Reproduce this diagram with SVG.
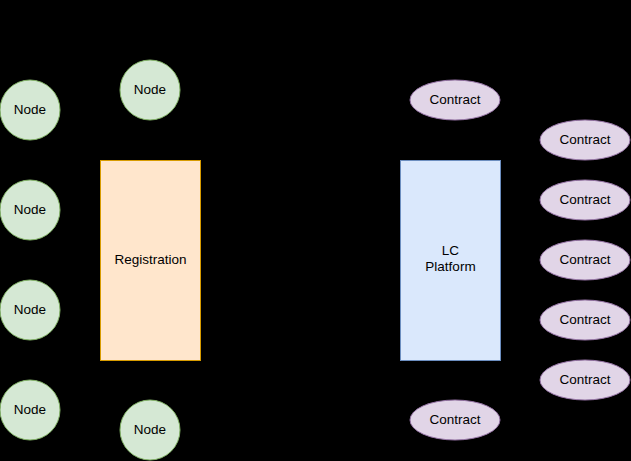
<svg xmlns="http://www.w3.org/2000/svg" width="631" height="461" viewBox="0 0 631 461">
<style>
text{font-family:"Liberation Sans",Arial,sans-serif;font-size:13.5px;fill:#000;text-anchor:middle;dominant-baseline:central}
.node{fill:#d5e8d4;stroke:#82b366;stroke-width:1}
.reg{fill:#ffe6cc;stroke:#d79b00;stroke-width:1}
.lc{fill:#dae8fc;stroke:#6c8ebf;stroke-width:1}
.ct{fill:#e1d5e7;stroke:#9673a6;stroke-width:1}
</style>
<rect x="0" y="0" width="631" height="461" fill="#000"/>
<g id="connectors"></g>
<g id="node1"><circle class="node" cx="30" cy="110" r="30"/><text x="30" y="109">Node</text></g>
<g id="node2"><circle class="node" cx="30" cy="210" r="30"/><text x="30" y="209">Node</text></g>
<g id="node3"><circle class="node" cx="30" cy="310" r="30"/><text x="30" y="309">Node</text></g>
<g id="node4"><circle class="node" cx="30" cy="410" r="30"/><text x="30" y="409">Node</text></g>
<g id="node5"><circle class="node" cx="150" cy="90" r="30"/><text x="150" y="89">Node</text></g>
<g id="node6"><circle class="node" cx="150" cy="430" r="30"/><text x="150" y="429">Node</text></g>
<g id="registration"><rect class="reg" x="100.5" y="160.5" width="100" height="200"/><text x="150.5" y="259">Registration</text></g>
<g id="lcplatform"><rect class="lc" x="400.5" y="160.5" width="100" height="200"/><text x="450.5" y="250">LC</text><text x="450.5" y="266">Platform</text></g>
<g id="contract1"><ellipse class="ct" cx="455" cy="100" rx="45" ry="20"/><text x="455" y="99">Contract</text></g>
<g id="contract2"><ellipse class="ct" cx="585" cy="140" rx="45" ry="20"/><text x="585" y="139">Contract</text></g>
<g id="contract3"><ellipse class="ct" cx="585" cy="200" rx="45" ry="20"/><text x="585" y="199">Contract</text></g>
<g id="contract4"><ellipse class="ct" cx="585" cy="260" rx="45" ry="20"/><text x="585" y="259">Contract</text></g>
<g id="contract5"><ellipse class="ct" cx="585" cy="320" rx="45" ry="20"/><text x="585" y="319">Contract</text></g>
<g id="contract6"><ellipse class="ct" cx="585" cy="380" rx="45" ry="20"/><text x="585" y="379">Contract</text></g>
<g id="contract7"><ellipse class="ct" cx="455" cy="420" rx="45" ry="20"/><text x="455" y="419">Contract</text></g>
</svg>
